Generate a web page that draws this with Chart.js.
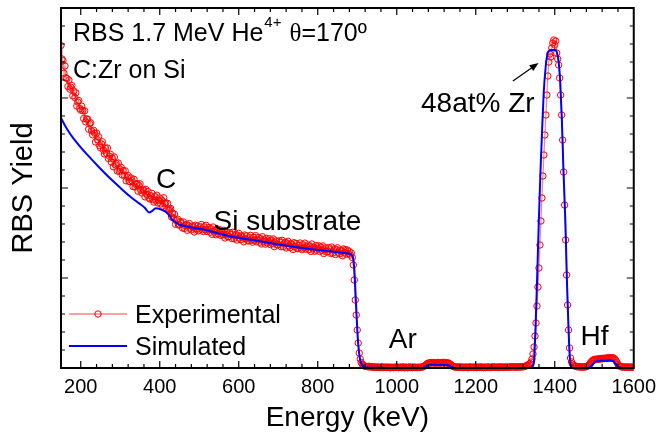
<!DOCTYPE html>
<html>
<head>
<meta charset="utf-8">
<script src="https://cdn.jsdelivr.net/npm/chart.js"></script>
<style>
  html, body { margin: 0; padding: 0; background: #fff; }
  #wrap { width: 663px; height: 436px; }
</style>
</head>
<body>
<div id="wrap"><canvas id="rbsChart" width="663" height="436"></canvas></div>
<script>
// measured spectrum: channel calibration 150 keV + 2.5 keV per channel
var expStartKeV = 150;
var expStepKeV = 2.5;
var expYield = [
  3225, 3090, 3072, 2948, 3020, 2902, 2895, 2815, 2880, 2788,
  2808, 2825, 2722, 2770, 2705, 2752, 2620, 2660, 2675, 2595,
  2578, 2618, 2575, 2495, 2572, 2462, 2488, 2490, 2388, 2442,
  2452, 2370, 2332, 2377, 2348, 2260, 2350, 2282, 2313, 2225,
  2202, 2240, 2262, 2178, 2140, 2200, 2147, 2200, 2095, 2118,
  2138, 2060, 2097, 2013, 2110, 2032, 2045, 1970, 2050, 1968,
  1986, 2006, 1930, 1974, 1928, 1972, 1872, 1910, 1924, 1866,
  1862, 1900, 1872, 1814, 1887, 1810, 1836, 1844, 1768, 1823,
  1842, 1778, 1750, 1788, 1771, 1712, 1786, 1734, 1765, 1701,
  1690, 1722, 1747, 1682, 1659, 1714, 1679, 1728, 1651, 1676,
  1700, 1641, 1678, 1618, 1703, 1644, 1652, 1589, 1646, 1577,
  1586, 1596, 1510, 1549, 1498, 1537, 1437, 1475, 1489, 1431,
  1430, 1465, 1445, 1400, 1460, 1395, 1423, 1435, 1377, 1425,
  1445, 1398, 1381, 1419, 1407, 1360, 1428, 1391, 1419, 1372,
  1380, 1412, 1435, 1382, 1365, 1412, 1385, 1427, 1365, 1387,
  1405, 1357, 1390, 1337, 1410, 1362, 1375, 1332, 1390, 1342,
  1360, 1382, 1325, 1367, 1335, 1377, 1300, 1337, 1355, 1312,
  1315, 1353, 1336, 1294, 1357, 1295, 1323, 1336, 1279, 1327,
  1347, 1300, 1283, 1321, 1309, 1262, 1330, 1293, 1321, 1275,
  1270, 1303, 1326, 1275, 1258, 1307, 1280, 1324, 1262, 1286,
  1305, 1258, 1292, 1240, 1313, 1267, 1280, 1238, 1297, 1250,
  1268, 1292, 1235, 1279, 1247, 1291, 1214, 1253, 1271, 1230,
  1233, 1271, 1255, 1213, 1277, 1215, 1243, 1257, 1200, 1249,
  1267, 1221, 1204, 1243, 1231, 1185, 1253, 1217, 1245, 1199,
  1193, 1227, 1250, 1199, 1183, 1232, 1205, 1249, 1188, 1211,
  1230, 1184, 1218, 1166, 1240, 1194, 1208, 1167, 1225, 1179,
  1198, 1222, 1165, 1209, 1178, 1221, 1145, 1184, 1202, 1161,
  1165, 1204, 1188, 1146, 1210, 1149, 1178, 1192, 1135, 1184,
  1203, 1157, 1141, 1180, 1168, 1122, 1191, 1155, 1183, 1137,
  1180, 1145, 1165, 1130, 1150, 1105, 1030, 880, 680, 530,
  380, 250, 150, 90, 55, 38, 28, 22, 18, 15,
  15, 12, 18, 10, 14, 8, 12, 6, 10, 9,
  5, 11, 7, 4, 9, 12, 3, 8, 6, 10,
  4, 7, 10, 2, 8, 5, 9, 3, 6, 11,
  5, 8, 3, 10, 6, 4, 12, 7, 2, 9,
  6, 3, 9, 11, 5, 8, 4, 10, 7, 6,
  6, 4, 9, 5, 8, 7, 11, 14, 20, 28,
  36, 44, 48, 52, 49, 54, 50, 55, 51, 48,
  53, 49, 56, 51, 48, 54, 50, 57, 52, 55,
  51, 48, 52, 46, 40, 32, 24, 16, 12, 9,
  8, 12, 6, 9, 11, 5, 10, 7, 4, 9,
  6, 10, 3, 8, 12, 5, 7, 9, 4, 11,
  7, 4, 10, 6, 9, 12, 5, 8, 3, 10,
  5, 9, 7, 11, 4, 8, 6, 10, 12, 7,
  9, 6, 10, 5, 12, 8, 7, 11, 6, 9,
  8, 11, 6, 10, 7, 12, 9, 13, 10, 12,
  8, 11, 7, 12, 9, 13, 10, 14, 12, 15,
  18, 22, 26, 30, 38, 45, 60, 90, 140, 210,
  320, 450, 620, 810, 1000, 1230, 1470, 1700, 1920, 2130,
  2330, 2530, 2730, 2920, 3060, 3140, 3110, 3200, 3250, 3280,
  3230, 3270, 3150, 3090, 3030, 2900, 2730, 2530, 2280, 1960,
  1630, 1280, 930, 630, 380, 200, 100, 60, 40, 30,
  22, 18, 15, 12, 14, 10, 13, 9, 11, 8,
  12, 10, 14, 18, 25, 35, 50, 62, 72, 80,
  85, 88, 84, 90, 87, 93, 89, 95, 91, 97,
  94, 99, 95, 101, 97, 103, 98, 104, 100, 102,
  97, 88, 74, 56, 38, 26, 18, 14, 11, 9,
  12, 8, 10, 7, 11, 9, 6, 10, 8, 7,
  9
];

// simulated spectrum
var simEnergy = [150, 160, 170, 180, 190, 200, 220, 245, 265, 285, 306, 325, 348, 362, 373, 381,
  390, 405, 415, 425, 432, 440, 448, 474, 516, 574, 649, 742, 825, 870, 882,
  886, 890, 893, 896, 899, 902, 906, 912, 920, 1065, 1072, 1078, 1084, 1095, 1128,
  1134, 1140, 1147, 1340, 1347, 1352, 1356, 1360, 1364, 1368, 1372, 1377, 1381, 1385, 1392,
  1400, 1406, 1410, 1414, 1418, 1422, 1427, 1431, 1435, 1438, 1442, 1448,
  1485, 1492, 1500, 1507, 1520, 1540, 1548, 1555, 1562, 1570, 1600];
var simYield = [2500, 2425, 2360, 2304, 2254, 2207, 2118, 2013, 1933, 1857, 1781, 1716, 1646, 1603, 1556, 1572,
  1597, 1582, 1563, 1522, 1482, 1455, 1437, 1410, 1380, 1320, 1270, 1210, 1170, 1148, 1140,
  1130, 1090, 960, 720, 470, 260, 110, 30, 5, 0, 8, 25, 32, 32, 30,
  22, 8, 0, 0, 50, 480, 980, 1510, 1980, 2380, 2750, 3010, 3130, 3170, 3180,
  3180, 3150, 3060, 2850, 2480, 1980, 1450, 850, 380, 110, 10, 0,
  0, 15, 50, 70, 72, 75, 70, 35, 8, 0, 0];

var xTicksMajor = 200;
var yTicksMajor = 900;

var expPoints = expYield.map(function(v, i) { return {x: expStartKeV + i * expStepKeV, y: v}; });
var simPoints = simEnergy.map(function(e, i) { return {x: e, y: simYield[i]}; });

var sans = '"Liberation Sans", Arial, sans-serif';
var redLine = 'rgba(255,40,40,0.6)';

// ticks on all four sides, the frame, the legend and the labels
var decorations = {
  id: 'decorations',
  afterDatasetsDraw: function(chart) {
    var ctx = chart.ctx, a = chart.chartArea, x = chart.scales.x, y = chart.scales.y;
    ctx.save();
    ctx.strokeStyle = '#000';
    ctx.lineWidth = 1.2;
    ctx.beginPath();
    x.ticks.forEach(function(t) {
      if (t.value <= x.min || t.value >= x.max) return;
      var px = x.getPixelForValue(t.value);
      var len = t.value % xTicksMajor === 0 ? 7 : 4;
      ctx.moveTo(px, a.bottom); ctx.lineTo(px, a.bottom - len);
      ctx.moveTo(px, a.top); ctx.lineTo(px, a.top + len);
    });
    y.ticks.forEach(function(t) {
      if (t.value <= y.min || t.value >= y.max) return;
      var py = y.getPixelForValue(t.value);
      var len = t.value % yTicksMajor === 0 ? 7 : 4;
      ctx.moveTo(a.left, py); ctx.lineTo(a.left + len, py);
      ctx.moveTo(a.right, py); ctx.lineTo(a.right - len, py);
    });
    ctx.stroke();
    ctx.lineWidth = 2;
    ctx.strokeRect(a.left, a.top, a.right - a.left, a.bottom - a.top);

    ctx.fillStyle = '#000';
    ctx.textBaseline = 'alphabetic';

    // header text
    ctx.textAlign = 'left';
    ctx.font = '25px ' + sans;
    var tx = a.left + 12, ty = a.top + 33;
    var head = 'RBS 1.7 MeV He';
    ctx.fillText(head, tx, ty);
    var w = ctx.measureText(head).width;
    ctx.font = '15px ' + sans;
    ctx.fillText('4+', tx + w + 1, ty - 14);
    var w2 = ctx.measureText('4+').width;
    ctx.font = '25px "Liberation Serif", serif';
    ctx.fillText('\u03b8', tx + w + w2 + 9, ty);
    var w3 = ctx.measureText('\u03b8').width;
    ctx.font = '25px ' + sans;
    ctx.fillText('=170\u00ba', tx + w + w2 + 9 + w3, ty);
    ctx.fillText('C:Zr on Si', tx, a.top + 70);

    // legend
    var lx = a.left + 8, lw = 58;
    var ly1 = a.bottom - 54, ly2 = a.bottom - 22;
    ctx.lineWidth = 1.5;
    ctx.strokeStyle = redLine;
    ctx.beginPath(); ctx.moveTo(lx, ly1); ctx.lineTo(lx + lw, ly1); ctx.stroke();
    ctx.strokeStyle = '#ff0000';
    ctx.lineWidth = 1;
    ctx.beginPath(); ctx.arc(lx + lw / 2, ly1, 3.2, 0, Math.PI * 2); ctx.stroke();
    ctx.strokeStyle = '#0000ff';
    ctx.lineWidth = 2;
    ctx.beginPath(); ctx.moveTo(lx, ly2); ctx.lineTo(lx + lw, ly2); ctx.stroke();
    ctx.font = '25px ' + sans;
    ctx.fillText('Experimental', lx + lw + 8, ly1 + 9);
    ctx.fillText('Simulated', lx + lw + 8, ly2 + 9);

    // peak labels
    ctx.font = '28px ' + sans;
    ctx.textAlign = 'center';
    ctx.fillText('C', x.getPixelForValue(416), y.getPixelForValue(1800));
    ctx.textAlign = 'left';
    ctx.fillText('Si substrate', x.getPixelForValue(536), y.getPixelForValue(1380));
    ctx.fillText('Ar', x.getPixelForValue(980), y.getPixelForValue(200));
    ctx.fillText('Hf', x.getPixelForValue(1465), y.getPixelForValue(230));
    ctx.textAlign = 'right';
    ctx.fillText('48at% Zr', x.getPixelForValue(1349), y.getPixelForValue(2560));

    // arrow to the Zr peak
    var x0 = x.getPixelForValue(1294), y0 = y.getPixelForValue(2870);
    var x1 = x.getPixelForValue(1359), y1 = y.getPixelForValue(3050);
    var ang = Math.atan2(y1 - y0, x1 - x0);
    ctx.strokeStyle = '#000';
    ctx.lineWidth = 1.2;
    ctx.beginPath(); ctx.moveTo(x0, y0); ctx.lineTo(x1 - 6 * Math.cos(ang), y1 - 6 * Math.sin(ang)); ctx.stroke();
    ctx.beginPath();
    ctx.moveTo(x1, y1);
    ctx.lineTo(x1 - 9 * Math.cos(ang) + 3.5 * Math.sin(ang), y1 - 9 * Math.sin(ang) - 3.5 * Math.cos(ang));
    ctx.lineTo(x1 - 9 * Math.cos(ang) - 3.5 * Math.sin(ang), y1 - 9 * Math.sin(ang) + 3.5 * Math.cos(ang));
    ctx.closePath();
    ctx.fill();
    ctx.restore();
  }
};

var ctx = document.getElementById('rbsChart');
var rbsChart = new Chart(ctx, {
  type: 'line',
  data: {
    datasets: [
      {
        label: 'Simulated',
        data: simPoints,
        borderColor: '#0000ff',
        borderWidth: 2,
        pointRadius: 0,
        cubicInterpolationMode: 'monotone',
        fill: false,
        order: 1
      },
      {
        label: 'Experimental',
        data: expPoints,
        borderColor: redLine,
        borderWidth: 1.2,
        pointRadius: 3.2,
        pointBorderColor: '#ff0000',
        pointBackgroundColor: 'rgba(0,0,0,0)',
        pointBorderWidth: 1,
        fill: false,
        clip: {left: 0, top: 0, right: 0, bottom: 5},
        order: 2
      }
    ]
  },
  options: {
    responsive: false,
    animation: false,
    events: [],
    layout: {padding: {left: 0, right: 24, top: 8, bottom: 0}},
    plugins: {legend: {display: false}, tooltip: {enabled: false}},
    scales: {
      x: {
        type: 'linear',
        min: 150,
        max: 1600,
        grid: {display: false, drawTicks: false},
        border: {display: false},
        ticks: {
          stepSize: 40,
          autoSkip: false,
          maxRotation: 0,
          padding: 7,
          color: '#000',
          font: {family: sans, size: 20},
          callback: function(v) { return v % xTicksMajor === 0 ? String(v) : ''; }
        },
        title: {display: true, text: 'Energy (keV)', color: '#000', font: {family: sans, size: 28}, padding: {top: 0, bottom: 1}},
        afterFit: function(s) { s.height = 68; }
      },
      y: {
        type: 'linear',
        min: 0,
        max: 3600,
        grid: {display: false, drawTicks: false},
        border: {display: false},
        ticks: {stepSize: 180, display: false},
        title: {display: true, text: 'RBS Yield', color: '#000', font: {family: sans, size: 29}, padding: {top: 7, bottom: 0}},
        afterFit: function(s) { s.width = 61; }
      }
    }
  },
  plugins: [decorations]
});
</script>
</body>
</html>
